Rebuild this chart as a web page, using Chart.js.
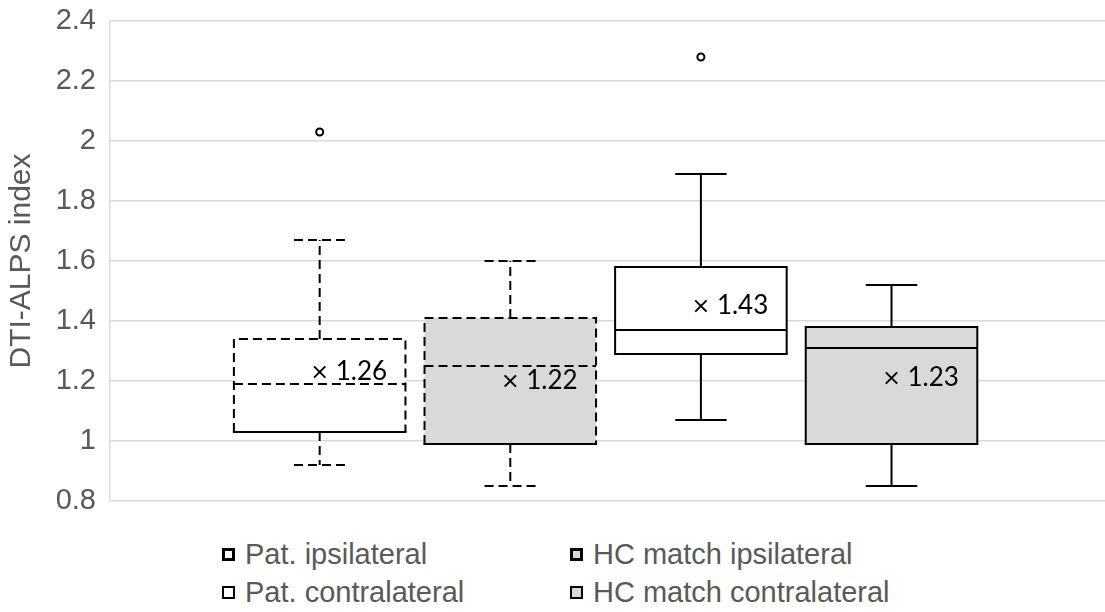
<!DOCTYPE html>
<html lang="en">
<head>
<meta charset="UTF-8" />
<title>DTI-ALPS index</title>
<script src="https://cdn.jsdelivr.net/npm/chart.js"></script>
<style>
  body { margin: 0; background: #fff; font-family: "Liberation Sans", Arial, sans-serif; }
  .wrap { position: relative; width: 1105px; height: 612px; overflow: hidden; }
  .legend-item { position: absolute; height: 36px; display: flex; align-items: center; color: #595959; font-size: 29px; white-space: nowrap; }
  .swatch { box-sizing: border-box; width: 13px; height: 13px; border: 2px solid #000; }
</style>
</head>
<body>
<div class="wrap">
  <canvas id="boxChart" width="1105" height="520"></canvas>
  <div id="legend"></div>
</div>

<script>
  // groups, in the order the boxes stand
  const groups = ['Pat. ipsilateral', 'HC match ipsilateral', 'Pat. contralateral', 'HC match contralateral'];
  const whiskerMin = [0.92, 0.85, 1.07, 0.85];
  const q1 = [1.03, 0.99, 1.29, 0.99];
  const median = [1.19, 1.25, 1.37, 1.31];
  const q3 = [1.34, 1.41, 1.58, 1.38];
  const whiskerMax = [1.67, 1.60, 1.89, 1.52];
  const means = [1.23, 1.20, 1.45, 1.21];
  const meanLabels = ['1.26', '1.22', '1.43', '1.23'];
  const outliers = [[2.03], [], [2.28], []];

  // look of each group
  const boxFill = ['#ffffff', '#d9d9d9', '#ffffff', '#d9d9d9'];
  const dashed = [true, true, false, false];

  const DASH = [9, 5];

  // outlines, medians and whiskers on top of the floating bars
  const boxOutline = {
    id: 'boxOutline',
    afterDatasetDraw(chart, args) {
      if (args.index !== 0) return;
      const ctx = chart.ctx;
      const y = chart.scales.y;
      args.meta.data.forEach((bar, i) => {
        const left = bar.x - bar.width / 2;
        const right = bar.x + bar.width / 2;
        const top = y.getPixelForValue(q3[i]);
        const bottom = y.getPixelForValue(q1[i]);
        const mid = y.getPixelForValue(median[i]);
        const hi = y.getPixelForValue(whiskerMax[i]);
        const lo = y.getPixelForValue(whiskerMin[i]);
        const cap = bar.width * 0.15;

        ctx.save();
        ctx.strokeStyle = '#000';
        ctx.lineWidth = 2;
        ctx.setLineDash(dashed[i] ? DASH : []);

        ctx.beginPath();
        ctx.moveTo(left, bottom);
        ctx.lineTo(left, top);
        ctx.lineTo(right, top);
        ctx.lineTo(right, bottom);
        ctx.stroke();

        ctx.beginPath();
        ctx.moveTo(left, mid);
        ctx.lineTo(right, mid);
        ctx.stroke();

        ctx.beginPath();
        ctx.moveTo(bar.x, top);
        ctx.lineTo(bar.x, hi);
        ctx.moveTo(bar.x - cap, hi);
        ctx.lineTo(bar.x + cap, hi);
        ctx.stroke();

        ctx.beginPath();
        ctx.moveTo(bar.x, bottom);
        ctx.lineTo(bar.x, lo);
        ctx.moveTo(bar.x - cap, lo);
        ctx.lineTo(bar.x + cap, lo);
        ctx.stroke();

        // the bottom edge is solid on every box
        ctx.setLineDash([]);
        ctx.beginPath();
        ctx.moveTo(left - 1, bottom);
        ctx.lineTo(right + 1, bottom);
        ctx.stroke();
        ctx.restore();
      });
    },
    afterDatasetsDraw(chart) {
      const ctx = chart.ctx;
      const pts = chart.getDatasetMeta(1).data;
      ctx.save();
      ctx.fillStyle = '#000';
      ctx.font = '26px Lato, "Noto Sans", sans-serif';
      ctx.textAlign = 'left';
      ctx.textBaseline = 'middle';
      pts.forEach((p, i) => ctx.fillText(meanLabels[i], p.x + 16, p.y));
      ctx.restore();
    }
  };

  const outlierPoints = [];
  outliers.forEach((list, i) => list.forEach(v => outlierPoints.push({ x: i, y: v })));

  new Chart(document.getElementById('boxChart'), {
    type: 'bar',
    data: {
      datasets: [
        {
          label: 'box',
          order: 3,
          data: groups.map((g, i) => ({ x: i, y: [q1[i], q3[i]] })),
          backgroundColor: boxFill,
          borderWidth: 0,
          barPercentage: 0.9,
          categoryPercentage: 1
        },
        {
          type: 'scatter',
          label: 'mean',
          order: 1,
          data: means.map((m, i) => ({ x: i, y: m })),
          pointStyle: 'crossRot',
          pointRadius: 8,
          borderColor: '#000',
          borderWidth: 2
        },
        {
          type: 'scatter',
          label: 'outliers',
          order: 2,
          data: outlierPoints,
          pointStyle: 'circle',
          pointRadius: 3.5,
          backgroundColor: '#fff',
          borderColor: '#000',
          borderWidth: 2
        }
      ]
    },
    options: {
      responsive: false,
      animation: false,
      layout: { autoPadding: false, padding: { top: 21, right: 0, bottom: 19, left: 0 } },
      plugins: { legend: { display: false }, tooltip: { enabled: false } },
      scales: {
        x: { type: 'linear', min: -1.1, max: 4.12, offset: false, display: false, grid: { offset: false } },
        y: {
          min: 0.8,
          max: 2.4,
          afterFit(scale) {
            scale.width = 110;
            scale.paddingTop = 0;
            scale.paddingBottom = 0;
          },
          ticks: {
            stepSize: 0.2,
            padding: 14,
            color: '#595959',
            font: { family: '"Liberation Sans", Arial, sans-serif', size: 29 },
            callback: v => String(Math.round(v * 10) / 10)
          },
          grid: { color: '#d9d9d9', lineWidth: 1.5, drawTicks: false },
          border: { color: '#d9d9d9', width: 1.5 },
          title: {
            display: true,
            text: 'DTI-ALPS index',
            color: '#595959',
            font: { family: '"Liberation Sans", Arial, sans-serif', size: 30 },
            padding: { top: 4, bottom: 0 }
          }
        }
      }
    },
    plugins: [boxOutline]
  });

  // two-column legend under the plot
  const legendPos = [[222, 536], [570, 536], [222, 574], [570, 574]];
  const legendBorder = [3, 3, 2, 2];
  document.getElementById('legend').innerHTML = groups.map((g, i) => `
    <div class="legend-item" style="left:${legendPos[i][0]}px;top:${legendPos[i][1]}px">
      <span class="swatch" style="background:${boxFill[i]};border-width:${legendBorder[i]}px"></span>
      <span style="margin-left:10px">${g}</span>
    </div>`).join('');
</script>
</body>
</html>
